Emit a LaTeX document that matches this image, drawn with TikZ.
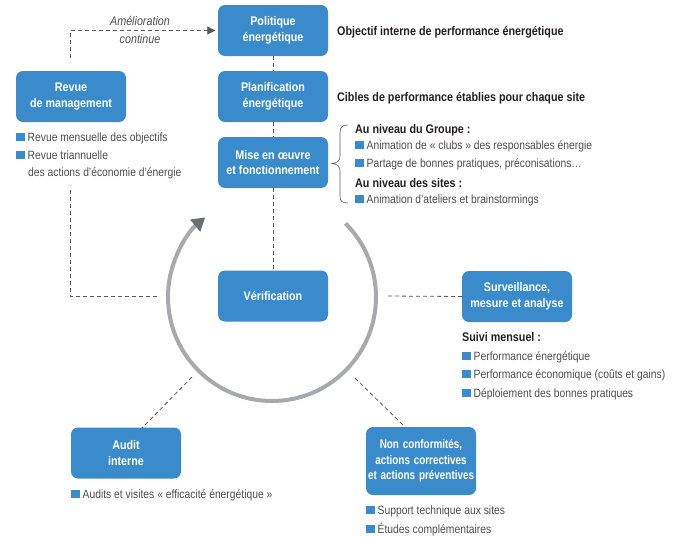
\documentclass[tikz,border=0pt]{standalone}
\usepackage{fontspec}
\setmainfont{Liberation Sans}[FakeStretch=0.86]
\usetikzlibrary{arrows.meta}
\definecolor{boxblue}{HTML}{3A8BCC}
\definecolor{txtgray}{HTML}{4D4D4F}
\definecolor{headdark}{HTML}{231F20}
\definecolor{dashgray}{HTML}{58595B}
\definecolor{arcgray}{HTML}{A7A9AC}
\definecolor{tipgray}{HTML}{6D6E71}
\newcommand\bsq{{\color{boxblue}\rule{8.5pt}{8.5pt}}\hspace{3pt}}
\newcommand\narrowtxt[1]{\scalebox{0.92}[1]{#1}}
\tikzset{
  blbox/.style={fill=boxblue, rounded corners=7pt, minimum width=110pt, minimum height=51pt,
    text=white, font=\fontsize{12.5}{15.7}\selectfont\bfseries, align=center, inner sep=2pt},
  bul/.style={anchor=base west, inner sep=0pt, text=txtgray, font=\fontsize{12}{15}\selectfont},
  head/.style={anchor=base west, inner sep=0pt, text=headdark, font=\fontsize{12.5}{15}\selectfont\bfseries},
  dsh/.style={draw=dashgray, line width=0.8pt, dash pattern=on 4pt off 3pt},
  ital/.style={anchor=base, inner sep=0pt, text=txtgray, font=\fontsize{12.5}{15}\selectfont\itshape},
}
\begin{document}
\begin{tikzpicture}[x=1pt,y=-1pt]
\useasboundingbox (0,0) rectangle (678,536);
% boxes
\node[blbox] (pol) at (273,30.5) {Politique\\énergétique};
\node[blbox] (plan) at (273,96.5) {Planification\\énergétique};
\node[blbox] (mise) at (273,162.5) {Mise en œuvre\\et fonctionnement};
\node[blbox] (rev) at (71,96.5) {Revue\\de management};
\node[blbox] (ver) at (273,296) {Vérification};
\node[blbox] (surv) at (517,296.5) {Surveillance,\\mesure et analyse};
\node[blbox] (aud) at (126,453) {Audit\\interne};
\node[blbox, minimum height=68pt, text width=106pt, inner sep=2pt] (nc) at (421,461)
  {\narrowtxt{Non conformités,}\\\narrowtxt{actions correctives}\\\narrowtxt{et actions préventives}};
% cycle arc
\coordinate (cc) at (272,297);
\draw[arcgray, line width=4pt, -{Triangle[length=13pt,width=15pt,color=tipgray]}]
  ([shift={(-45:104)}]cc) arc[start angle=-45, end angle=230, radius=104];
% dashed connectors
\draw[dsh] (pol.south) -- (plan.north);
\draw[dsh] (plan.south) -- (mise.north);
\draw[dsh] (mise.south) -- (ver.north);
\coordinate (revtop) at (70,58);
\draw[dsh, -{Triangle[length=8pt,width=8pt]}, shorten >=2.5pt] (revtop) |- (pol.west);
\coordinate (revbot) at (70,190);
\coordinate (revend) at (159,296);
\draw[dsh] (revbot) |- (revend);
\coordinate (survst) at (388,296);
\draw[dsh] (survst) -- (surv.west);
\coordinate (audst) at (192,377);
\coordinate (auden) at (142,428);
\draw[dsh] (audst) -- (auden);
\coordinate (ncst) at (355,378);
\coordinate (ncen) at (405,427);
\draw[dsh] (ncst) -- (ncen);
% labels
\node[ital] (am1) at (140,25) {Amélioration};
\node[ital] (am2) at (140,43) {continue};
\node[head] (obj) at (337,35) {Objectif interne de performance énergétique};
\node[head] (cib) at (337,101) {Cibles de performance établies pour chaque site};
% brace
\draw[dashgray, line width=0.6pt] (348,125) .. controls (342,125) and (340,127) .. (340,133)
  -- (340,156) .. controls (340,160) and (338,163) .. (332,163.5)
  .. controls (338,164) and (340,167) .. (340,171) -- (340,196)
  .. controls (340,201) and (342,203) .. (348,203);
\node[head] (grp) at (355,133) {Au niveau du Groupe :};
\node[bul] (g1) at (355,149) {\bsq Animation de «~clubs~» des responsables énergie};
\node[bul] (g2) at (355,167) {\bsq Partage de bonnes pratiques, préconisations…};
\node[head] (sit) at (355,187) {Au niveau des sites :};
\node[bul] (s1) at (355,203) {\bsq Animation d’ateliers et brainstormings};
% revue
\node[bul] (r1) at (16,141) {\bsq Revue mensuelle des objectifs};
\node[bul] (r2) at (16,159) {\bsq Revue triannuelle};
\node[bul] (r3) at (28,176) {des actions d’économie d’énergie};
% surveillance
\node[head] (sm) at (462,341) {Suivi mensuel :};
\node[bul] (m1) at (462,360) {\bsq Performance énergétique};
\node[bul] (m2) at (462,378) {\bsq Performance économique (coûts et gains)};
\node[bul] (m3) at (462,397) {\bsq Déploiement des bonnes pratiques};
% audit
\node[bul] (a1) at (71,498) {\bsq Audits et visites «~efficacité énergétique~»};
% non conformites
\node[bul] (n1) at (366,514) {\bsq Support technique aux sites};
\node[bul] (n2) at (366,533) {\bsq Études complémentaires};
\end{tikzpicture}
\end{document}
